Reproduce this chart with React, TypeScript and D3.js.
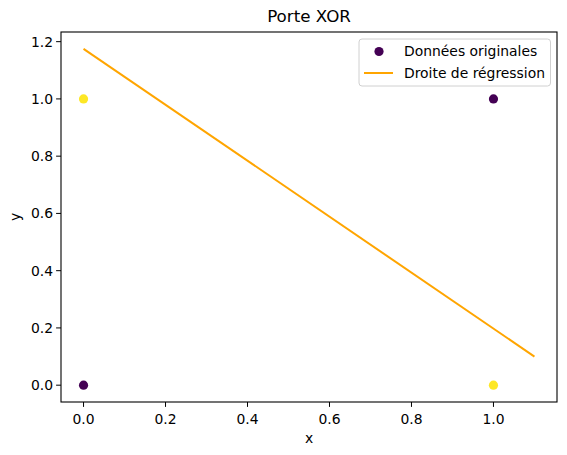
import React from "react";
import * as d3 from "d3";

const pointX = [0, 0, 1, 1];
const pointY = [0, 1, 0, 1];
const pointClass = [0, 1, 1, 0];
const lineX = [0, 1.1];
const lineY = [1.175, 0.1];
const xTicks = [0.0, 0.2, 0.4, 0.6, 0.8, 1.0];
const yTicks = [0.0, 0.2, 0.4, 0.6, 0.8, 1.0, 1.2];
const classColors = ["#440154", "#fde725"];

const W = 567, H = 455;
const M = { left: 61, right: 557, top: 32, bottom: 402 };
const FONT = "DejaVu Sans, sans-serif";

export default function App() {
  const x = d3.scaleLinear().domain([-0.055, 1.155]).range([M.left, M.right]);
  const y = d3.scaleLinear().domain([-0.05875, 1.23375]).range([M.bottom, M.top]);
  const line = d3.line<number>().x((_, i) => x(lineX[i])).y((d) => y(d));
  return (
    <svg width={W} height={H} style={{ position: "absolute", left: 0, top: 0, background: "#fff" }} fontFamily={FONT}>
      <rect x={0} y={0} width={W} height={H} fill="#fff" />
      <text x={(M.left + M.right) / 2} y={22} textAnchor="middle" fontSize={16.7}>Porte XOR</text>
      {pointX.map((px, i) => (
        <circle key={i} cx={x(px)} cy={y(pointY[i])} r={4.6} fill={classColors[pointClass[i]]} />
      ))}
      <path d={line(lineY) || ""} fill="none" stroke="orange" strokeWidth={2} />
      <rect x={M.left} y={M.top} width={M.right - M.left} height={M.bottom - M.top} fill="none" stroke="#000" strokeWidth={1.1} />
      {xTicks.map((t) => (
        <g key={t}>
          <line x1={x(t)} x2={x(t)} y1={M.bottom} y2={M.bottom + 4.9} stroke="#000" strokeWidth={1} />
          <text x={x(t)} y={M.bottom + 21.5} textAnchor="middle" fontSize={13.9}>{t.toFixed(1)}</text>
        </g>
      ))}
      {yTicks.map((t) => (
        <g key={t}>
          <line x1={M.left - 4.9} x2={M.left} y1={y(t)} y2={y(t)} stroke="#000" strokeWidth={1} />
          <text x={M.left - 8} y={y(t) + 5} textAnchor="end" fontSize={13.9}>{t.toFixed(1)}</text>
        </g>
      ))}
      <text x={(M.left + M.right) / 2} y={443} textAnchor="middle" fontSize={13.9}>x</text>
      <text transform={`translate(20,${(M.top + M.bottom) / 2}) rotate(-90)`} textAnchor="middle" fontSize={13.9}>y</text>
      <g>
        <rect x={359} y={39} width={191.5} height={47} rx={3} fill="#fff" fillOpacity={0.8} stroke="#d0d0d0" strokeWidth={1} />
        <circle cx={379} cy={51.5} r={4.6} fill={classColors[0]} />
        <text x={404} y={56} fontSize={13.9}>Données originales</text>
        <line x1={364} x2={393} y1={73} y2={73} stroke="orange" strokeWidth={2} />
        <text x={404} y={78} fontSize={13.9}>Droite de régression</text>
      </g>
    </svg>
  );
}
